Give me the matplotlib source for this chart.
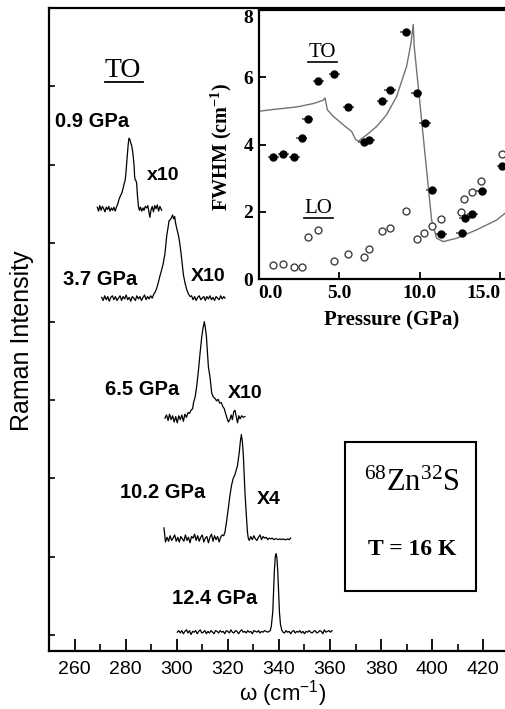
import matplotlib.pyplot as plt
import numpy as np
from matplotlib.patches import Rectangle

plt.rcParams['mathtext.default'] = 'regular'

SANS = 'Liberation Sans'
SERIF = 'Liberation Serif'

# ---- Raman spectra (wavenumber, intensity above baseline) ----
s1_w = [268.9, 269.4, 269.9, 270.4, 270.9, 271.4, 271.9, 272.4, 272.9, 273.4,
        273.9, 274.4, 274.9, 275.4, 275.9, 276.4, 276.9, 277.4, 277.9, 278.5,
        279.0, 279.5, 279.8, 280.1, 280.4, 280.7, 281.0, 281.3, 281.7, 282.0,
        282.4, 282.7, 283.0, 283.3, 283.5, 283.7, 284.0, 284.3, 284.6, 285.0,
        285.4, 285.8, 286.3, 286.8, 287.2, 287.7, 288.2, 288.7, 289.2, 289.5,
        289.9, 290.4, 290.9, 291.4, 291.9, 292.4, 292.9, 293.4, 294.1]
s1_i = [0.02, -0.03, 0.04, -0.02, 0.03, 0.00, -0.04, 0.02, -0.01, 0.03,
        -0.03, 0.01, -0.02, 0.02, -0.03, 0.02, 0.06, 0.12, 0.16, 0.20,
        0.26, 0.33, 0.36, 0.45, 0.58, 0.70, 0.82, 0.90, 0.88, 0.84,
        0.80, 0.74, 0.66, 0.55, 0.42, 0.37, 0.36, 0.33, 0.18, 0.03,
        -0.02, 0.02, -0.03, 0.01, -0.02, 0.03, 0.01, 0.04, -0.06, -0.11,
        -0.02, 0.03, -0.04, 0.04, 0.00, 0.05, -0.03, 0.03, -0.02]

s2_w = [270.6, 271.2, 271.8, 272.4, 273.0, 273.6, 274.2, 274.8, 275.4, 276.0,
        276.6, 277.2, 277.8, 278.4, 279.0, 279.6, 280.2, 280.8, 281.4, 282.0,
        282.6, 283.2, 283.8, 284.4, 285.0, 285.6, 286.2, 286.8, 287.4, 288.0,
        288.6, 289.2, 289.8, 290.4,
        291.0, 291.6, 292.2, 292.8, 293.4, 294.1, 294.7, 295.4, 296.1, 296.6,
        297.0, 297.5, 298.0, 298.4, 298.8, 299.2, 299.6, 300.0, 300.6, 301.1,
        301.7, 302.2, 302.6, 303.2, 303.9, 304.5, 305.2,
        305.8, 306.4, 307.0, 307.6, 308.2, 308.8, 309.4, 310.0, 310.6, 311.2,
        311.8, 312.4, 313.0, 313.6, 314.2, 314.8, 315.4, 316.0, 316.6, 317.2,
        317.8, 318.4, 318.9]
s2_i = [0.01, -0.03, 0.03, -0.02, 0.02, -0.04, 0.01, 0.03, -0.02, 0.02,
        -0.03, 0.00, 0.03, -0.03, 0.02, -0.01, 0.04, -0.02, 0.01, -0.04,
        0.02, 0.00, -0.03, 0.03, -0.01, 0.02, -0.03, 0.01, 0.04, -0.02,
        0.02, -0.01, 0.03, 0.00,
        0.05, 0.08, 0.13, 0.20, 0.28, 0.36, 0.44, 0.57, 0.80, 0.90,
        0.99, 1.00, 1.03, 1.06, 1.01, 1.04, 0.95, 0.89, 0.81, 0.72,
        0.57, 0.42, 0.30, 0.20, 0.11, 0.06, 0.02,
        0.03, -0.02, 0.02, -0.03, 0.01, 0.03, -0.02, 0.00, 0.02, -0.03,
        0.02, -0.01, 0.03, -0.02, 0.01, -0.03, 0.02, 0.00, -0.02, 0.03,
        -0.01, 0.02, 0.00]

s3_w = [295.4, 296.0, 296.6, 297.2, 297.8, 298.4, 299.0, 299.6, 300.2, 300.8,
        301.4, 302.0, 302.6, 303.2, 303.8, 304.4, 305.0,
        305.6, 306.2, 306.6, 307.2, 307.8, 308.5, 309.2, 309.8, 310.3, 310.8,
        311.2, 311.6, 312.0, 312.4, 313.0, 313.7, 314.3, 315.0, 315.6, 316.2,
        316.8, 317.4, 318.0, 318.6, 319.2, 319.7, 320.2, 320.8, 321.3, 321.8,
        322.3, 322.8, 323.3, 323.8, 324.3, 324.8, 325.4, 326.0, 326.7]
s3_i = [0.00, 0.04, -0.03, 0.05, -0.02, 0.03, -0.05, 0.02, -0.06, 0.03,
        -0.02, 0.04, -0.04, 0.05, 0.01, 0.07, 0.06,
        0.10, 0.12, 0.20, 0.27, 0.40, 0.61, 0.85, 1.04, 1.15, 1.23,
        1.15, 1.05, 0.85, 0.65, 0.53, 0.32, 0.27, 0.25, 0.22, 0.24,
        0.19, 0.20, 0.15, 0.12, 0.05, 0.00, -0.05, -0.02, 0.04, -0.02,
        0.08, 0.10, 0.02, -0.06, 0.03, -0.01, 0.03, 0.01, 0.02]

s4_w = [295.0, 295.3, 295.6,
        296.2, 296.8, 297.4, 298.0, 298.6, 299.2, 299.8, 300.4, 301.0, 301.6,
        302.2, 302.8, 303.4, 304.0, 304.6, 305.2, 305.8, 306.4, 307.0, 307.6,
        308.2, 308.8, 309.4, 310.0, 310.6, 311.2, 311.8, 312.4, 313.0, 313.6,
        314.2, 314.8, 315.4, 316.0, 316.6, 317.2, 317.8,
        318.4, 318.9, 319.5, 320.2, 320.8, 321.5, 322.1, 322.8, 323.3, 323.7,
        324.1, 324.5, 324.9, 325.3, 325.7, 326.1, 326.4, 326.7, 327.1, 327.4,
        327.7, 328.0, 328.4,
        329.0, 329.6, 330.2, 330.8, 331.4, 332.0, 332.6, 333.2, 333.8, 334.4,
        335.0, 335.6, 336.2, 336.8, 337.4, 338.0, 338.6, 339.2, 339.8, 340.4,
        341.0, 341.6, 342.2, 342.8, 343.4, 344.0, 344.6]
s4_i = [0.14, 0.05, -0.04,
        0.02, -0.03, 0.04, -0.02, 0.01, 0.05, -0.03, 0.02, -0.04, 0.03,
        0.00, -0.03, 0.05, -0.02, 0.02, -0.05, 0.03, 0.01, 0.06, -0.02,
        0.04, -0.03, 0.02, 0.05, -0.04, 0.01, 0.03, -0.05, 0.02, 0.06,
        -0.03, 0.04, -0.01, 0.03, -0.04, 0.02, 0.05,
        0.04, 0.09, 0.22, 0.39, 0.55, 0.69, 0.77, 0.82, 0.88, 0.92,
        1.01, 1.11, 1.24, 1.33, 1.24, 1.05, 0.82, 0.60, 0.38, 0.22,
        0.08, 0.01, -0.02,
        0.03, -0.01, 0.04, 0.00, -0.02, 0.02, 0.05, -0.01, 0.03, 0.01,
        0.02, -0.01, 0.01, 0.00, 0.01, -0.01, 0.00, 0.00, -0.01, 0.00,
        -0.01, 0.00, -0.01, -0.01, 0.00, -0.01, 0.01]

s5_w = [300.2, 300.8, 301.4, 302.0, 302.6, 303.2, 303.8, 304.4, 305.0, 305.6,
        306.2, 306.8, 307.4, 308.0, 308.6, 309.2, 309.8, 310.4, 311.0, 311.6,
        312.2, 312.8, 313.4, 314.0, 314.6, 315.2, 315.8, 316.4, 317.0, 317.6,
        318.2, 318.8, 319.4, 320.0, 320.6, 321.2, 321.8, 322.4, 323.0, 323.6,
        324.2, 324.8, 325.4, 326.0, 326.6, 327.2, 327.8, 328.4, 329.0, 329.6,
        330.2, 330.8, 331.4, 332.0, 332.6, 333.2, 333.8, 334.4, 335.0, 335.6,
        336.2,
        336.6, 337.0, 337.6, 338.2, 338.6, 338.9, 339.2, 339.5, 339.9, 340.2,
        340.6, 341.1,
        341.6, 342.2, 342.8, 343.4, 344.0, 344.6, 345.2, 345.8, 346.4, 347.0,
        347.6, 348.2, 348.8, 349.4, 350.0, 350.6, 351.2, 351.8, 352.4, 353.0,
        353.6, 354.2, 354.8, 355.4, 356.0, 356.6, 357.2, 357.8, 358.4, 359.0,
        359.6, 360.2, 360.8]
s5_i = [0.00, 0.02, -0.01, 0.02, -0.02, 0.01, 0.03, -0.01, 0.02, -0.03,
        0.01, 0.00, 0.02, -0.02, 0.01, 0.03, -0.01, 0.00, 0.02, -0.02,
        0.01, -0.01, 0.02, 0.00, -0.02, 0.02, 0.01, -0.01, 0.02, 0.00,
        0.01, -0.02, 0.02, 0.01, -0.01, 0.03, 0.00, -0.01, 0.02, 0.01,
        -0.02, 0.01, 0.03, 0.00, 0.01, -0.01, 0.02, 0.00, 0.01, -0.02,
        0.02, 0.01, 0.00, 0.02, -0.01, 0.01, 0.00, 0.02, 0.01, 0.00,
        0.01,
        0.02, 0.07, 0.26, 0.77, 0.97, 1.00, 0.95, 0.81, 0.50, 0.26,
        0.10, 0.03,
        0.00, -0.01, 0.02, 0.00, 0.01, -0.02, 0.01, 0.02, -0.01, 0.01,
        0.00, 0.02, -0.01, 0.01, -0.02, 0.01, 0.00, 0.02, 0.00, -0.01,
        0.01, 0.02, -0.01, 0.00, 0.02, 0.01, -0.02, 0.03, 0.00, 0.01,
        0.02, 0.00, 0.02]

spec_w = [s1_w, s2_w, s3_w, s4_w, s5_w]
spec_i = [s1_i, s2_i, s3_i, s4_i, s5_i]
spec_offset = [5.44, 4.30, 2.77, 1.23, 0.04]

pressure_labels = ['0.9 GPa', '3.7 GPa', '6.5 GPa', '10.2 GPa', '12.4 GPa']
pressure_pos = [(266.7, 6.55), (270.0, 4.54), (286.3, 3.14), (294.4, 1.82), (315.0, 0.47)]
factor_labels = ['x10', 'X10', 'X10', 'X4']
factor_pos = [(294.6, 5.86), (312.3, 4.57), (326.7, 3.09), (335.9, 1.73)]

# ---- inset: FWHM vs pressure ----
to_p = [0.91, 1.53, 2.21, 2.67, 3.04, 3.70, 4.69, 5.56, 6.53, 6.86, 7.67,
        8.15, 9.12, 9.80, 10.32, 10.73, 11.31, 12.59, 12.80, 13.25, 13.83, 15.11]
to_f = [3.62, 3.72, 3.62, 4.20, 4.77, 5.90, 6.10, 5.11, 4.07, 4.13, 5.29,
        5.63, 7.34, 5.54, 4.64, 2.66, 1.34, 1.37, 1.82, 1.93, 2.61, 3.38]
to_perr = 0.35

lo_p = [0.91, 1.53, 2.21, 2.67, 3.08, 3.70, 4.69, 5.56, 6.53, 6.86, 7.67,
        8.15, 9.12, 9.80, 10.27, 10.73, 11.31, 12.53, 12.75, 13.25, 13.77, 15.11]
lo_f = [0.43, 0.45, 0.38, 0.38, 1.27, 1.45, 0.55, 0.74, 0.67, 0.90, 1.42,
        1.52, 2.04, 1.19, 1.37, 1.59, 1.79, 1.99, 2.38, 2.58, 2.93, 3.72]

fit_p = [0.0, 0.81, 2.36, 3.39, 4.01, 4.12, 4.26, 4.63, 5.25, 5.77, 6.02,
         6.18, 6.70, 7.32, 7.94, 8.56, 9.18, 9.45, 9.59, 9.65, 10.21, 10.73,
         11.04, 11.45, 12.28, 13.52, 14.76, 15.28]
fit_f = [4.99, 5.04, 5.12, 5.22, 5.32, 5.39, 5.04, 4.84, 4.59, 4.39, 4.15,
         4.10, 4.29, 4.54, 4.89, 5.43, 6.33, 7.02, 7.57, 6.92, 4.24, 1.76,
         1.22, 1.12, 1.22, 1.47, 1.76, 1.96]

fig = plt.figure(figsize=(5.05, 7.09), dpi=100)

# main axes
ax = fig.add_axes([49 / 505, 1 - 651 / 709, 456 / 505, 643 / 709])
for w, inten, off in zip(spec_w, spec_i, spec_offset):
    ax.plot(w, np.array(inten) + off, color='black', lw=0.9)

ax.set_xlim(250, 428.5)
ax.set_ylim(-0.2, 8.0)
ax.set_xticks(np.arange(260, 421, 20))
ax.set_xticks(np.arange(270, 421, 20), minor=True)
ax.set_yticks(np.arange(0, 8))
ax.set_yticklabels([])
ax.tick_params(axis='x', which='major', direction='in', length=9, width=1.3,
               labelsize=14, pad=7)
ax.tick_params(axis='x', which='minor', direction='in', length=5, width=1.2)
ax.tick_params(axis='y', direction='in', length=4, width=1.2)
for lab in ax.get_xticklabels():
    lab.set_family(SANS)
for sp in ax.spines.values():
    sp.set_linewidth(1.6)
ax.spines['right'].set_visible(False)

ax.text(279.0, 7.20, 'TO', family=SERIF, fontsize=20, ha='center', va='center')
ax.plot([271.9, 286.8], [7.06, 7.06], color='black', lw=1.3)
for lab, (x, y) in zip(pressure_labels, pressure_pos):
    ax.text(x, y, lab, family=SANS, fontweight='bold', fontsize=14.5,
            ha='center', va='center')
for lab, (x, y) in zip(factor_labels, factor_pos):
    ax.text(x, y, lab, family=SANS, fontweight='bold', fontsize=14,
            ha='center', va='center')

ax.add_patch(Rectangle((365.9, 0.56), 51.1, 1.91, fill=False, lw=1.5,
                       color='black'))
ax.text(392.0, 1.94, r'$^{68}$Zn$^{32}$S', family=SERIF, fontsize=22,
        ha='center', va='center')
ax.text(392.0, 1.09, 'T = 16 K', family=SERIF, fontweight='bold',
        fontsize=17, ha='center', va='center')

fig.text(22 / 505, 1 - 341 / 709, 'Raman Intensity', family=SANS,
         fontsize=18, rotation=90, ha='center', va='center')
fig.text(283 / 505, 1 - 694 / 709, 'ω (cm$^{-1}$)', family=SANS,
         fontsize=16, ha='center', va='center')

# inset axes
axin = fig.add_axes([258.6 / 505, 1 - 279.3 / 709, 246.4 / 505, 269.3 / 709])
axin.set_facecolor('white')
axin.plot(fit_p, fit_f, color='0.45', lw=1.0)
axin.errorbar(to_p, to_f, xerr=to_perr, fmt='o', color='black', ms=5,
              ecolor='0.35', elinewidth=1.2, capsize=0)
axin.plot(lo_p, lo_f, 'o', mfc='white', mec='0.25', ms=5, mew=1.0)
axin.set_xlim(0, 15.28)
axin.set_ylim(0, 8.0)
axin.set_xticks([0, 5, 10, 15])
axin.set_xticklabels(['0.0', '5.0', '10.0', '15.0'])
axin.set_yticks([0, 2, 4, 6, 8])
axin.set_yticklabels(['0', '2', '4', '6', '8'])
axin.tick_params(direction='in', length=5, width=1.3, labelsize=14, pad=4)
for lab in axin.get_xticklabels() + axin.get_yticklabels():
    lab.set_family(SERIF)
    lab.set_fontweight('bold')
xl = axin.get_xticklabels()
xl[0].set_ha('left')
xl[-1].set_ha('right')
axin.get_yticklabels()[-1].set_va('top')
for sp in axin.spines.values():
    sp.set_linewidth(1.6)
axin.spines['right'].set_visible(False)

axin.text(3.95, 6.73, 'TO', family=SERIF, fontsize=15, ha='center', va='center')
axin.plot([3.04, 4.84], [6.46, 6.46], color='black', lw=1.2)
axin.text(3.70, 2.11, 'LO', family=SERIF, fontsize=15, ha='center', va='center')
axin.plot([2.81, 4.59], [1.83, 1.83], color='black', lw=1.2)

fig.text(221.7 / 505, 1 - 147 / 709, 'FWHM (cm$^{-1}$)', family=SERIF,
         fontweight='bold', fontsize=14.5, rotation=90, ha='center', va='center')
fig.text(391.7 / 505, 1 - 320 / 709, 'Pressure (GPa)', family=SERIF,
         fontweight='bold', fontsize=15, ha='center', va='center')

fig.savefig('out.png', dpi=100)
